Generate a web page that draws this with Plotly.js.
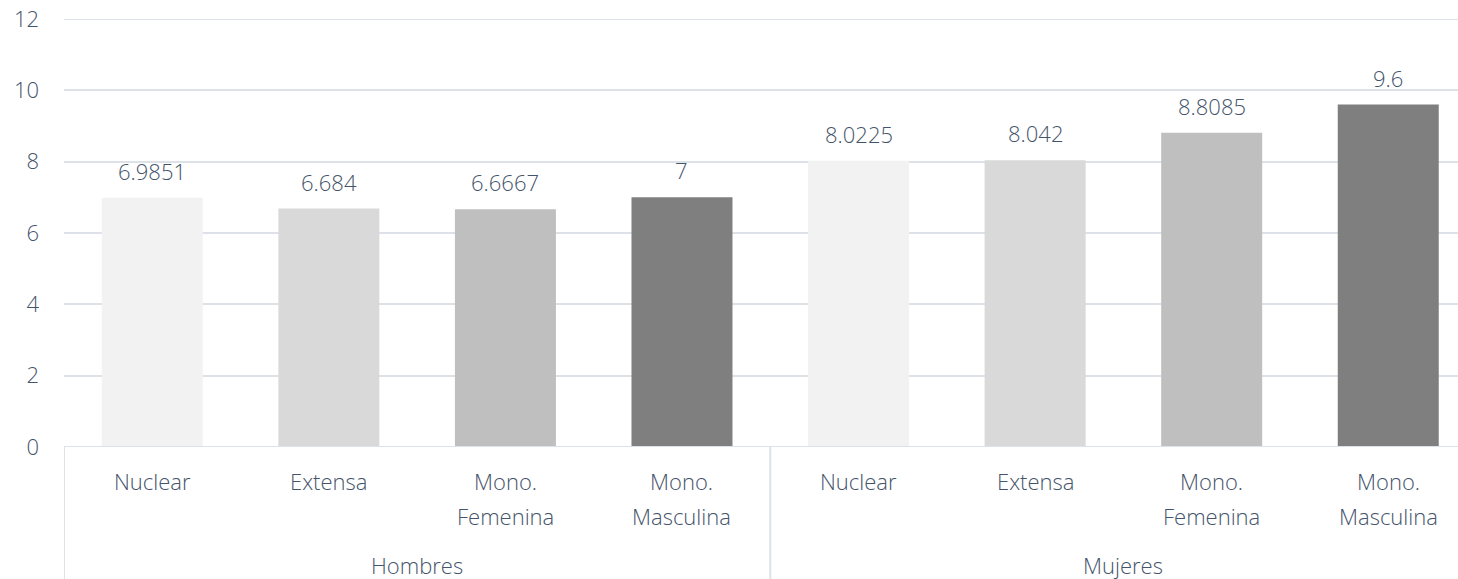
<!DOCTYPE html>
<html>
<head>
<meta charset="utf-8">
<script src="https://cdn.plot.ly/plotly-3.0.1.min.js"></script>
<style>
  html, body { margin: 0; padding: 0; background: #ffffff; }
  #chart { width: 1458px; height: 579px; }
</style>
</head>
<body>
<div id="chart"></div>
<script>
// ---- data ----
const groups = ["Hombres", "Mujeres"];
const categories = ["Nuclear", "Extensa", "Mono.<br>Femenina", "Mono.<br>Masculina"];
const hombresValues = [6.9851, 6.684, 6.6667, 7];
const mujeresValues = [8.0225, 8.042, 8.8085, 9.6];
const valueLabels = ["6.9851", "6.684", "6.6667", "7", "8.0225", "8.042", "8.8085", "9.6"];
const barColors = ["#f2f2f2", "#d9d9d9", "#bfbfbf", "#7f7f7f"];
const yTicks = [0, 2, 4, 6, 8, 10, 12];

// ---- build ----
const allValues = hombresValues.concat(mujeresValues);
const allCats = categories.concat(categories);
const xs = allValues.map((v, i) => i);
const colors = allCats.map((c, i) => barColors[i % categories.length]);

const textColor = "#44546a";
const fontFamily = "'Open Sans', 'Noto Sans', sans-serif";
const gridColor = "#dde1e8";

const trace = {
  type: "bar",
  x: xs,
  y: allValues,
  marker: { color: colors, line: { width: 0 } },
  hoverinfo: "skip",
  cliponaxis: false
};

const annotations = [];
// value labels above bars
allValues.forEach((v, i) => {
  annotations.push({
    x: i, y: v, xref: "x", yref: "y",
    text: valueLabels[i], showarrow: false,
    yanchor: "middle", xanchor: "center", yshift: 27,
    font: { family: fontFamily, size: 22, color: textColor, weight: 300 }
  });
});
// category labels (one annotation per line)
allCats.forEach((c, i) => {
  c.split("<br>").forEach((line, j) => {
    annotations.push({
      x: i, y: 0, xref: "x", yref: "paper",
      text: line, showarrow: false,
      yanchor: "middle", xanchor: "center", yshift: -34 - 35 * j,
      font: { family: fontFamily, size: 22, color: textColor, weight: 300 }
    });
  });
});
// group labels
groups.forEach((g, k) => {
  const n = categories.length;
  annotations.push({
    x: k * n + (n - 1) / 2, y: 0, xref: "x", yref: "paper",
    text: g, showarrow: false,
    yanchor: "middle", xanchor: "center", yshift: -118,
    font: { family: fontFamily, size: 22, color: textColor, weight: 300 }
  });
});

const shapes = [];
// edge grid lines (bottom axis line and top grid line) which Plotly skips at range ends
[yTicks[0], yTicks[yTicks.length - 1]].forEach((yv, k) => {
  shapes.push({
    type: "line", xref: "paper", yref: "y",
    x0: 0, x1: 1, y0: yv, y1: yv,
    layer: k === 0 ? "above" : "below",
    line: { color: gridColor, width: 2 }
  });
});
// group dividers
groups.forEach((g, k) => {
  const xb = k * categories.length - 0.5;
  shapes.push({
    type: "line", xref: "x", yref: "paper",
    x0: xb, x1: xb, y0: 0, y1: -0.31,
    line: { color: gridColor, width: 2 }
  });
});

const layout = {
  width: 1458, height: 579,
  margin: { l: 64, r: 0, t: 19, b: 132 },
  paper_bgcolor: "#ffffff",
  plot_bgcolor: "#ffffff",
  showlegend: false,
  bargap: 0.428,
  font: { family: fontFamily, color: textColor, size: 22, weight: 300 },
  xaxis: {
    range: [-0.5, 7.395],
    showticklabels: false,
    showgrid: false,
    zeroline: false,
    showline: false,
    ticks: "",
    fixedrange: true
  },
  yaxis: {
    range: [0, 12],
    tickvals: yTicks,
    ticktext: yTicks.map(String),
    showgrid: true,
    gridcolor: gridColor,
    gridwidth: 2,
    zeroline: false,
    showline: false,
    ticks: "",
    ticklabelstandoff: 24,
    tickfont: { family: fontFamily, size: 22, color: textColor, weight: 300 },
    fixedrange: true
  },
  annotations: annotations,
  shapes: shapes
};

Plotly.newPlot("chart", [trace], layout, { staticPlot: true, displayModeBar: false });
</script>
</body>
</html>
